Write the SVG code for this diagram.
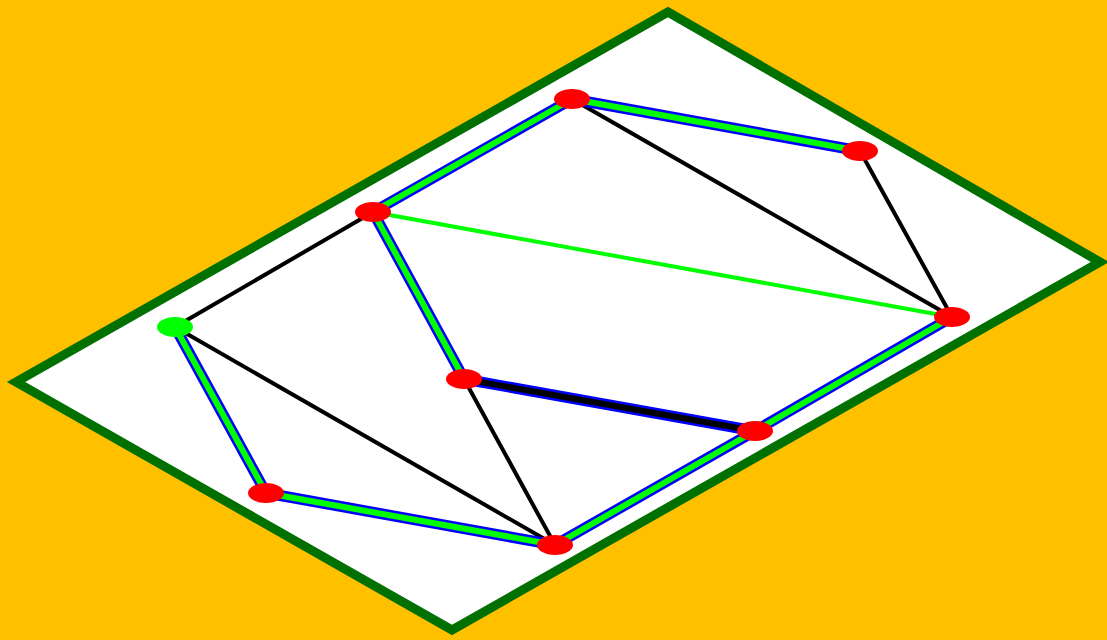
<svg xmlns="http://www.w3.org/2000/svg" width="1107" height="640" viewBox="0 0 1107 640">
<style>
.bg{fill:#FFC000}
.plane{fill:#FFFFFF;stroke:#007000;stroke-width:9;stroke-linejoin:miter}
.blk{stroke:#000000;stroke-width:4;stroke-linecap:round;fill:none}
.outer{stroke:#0000FF;stroke-width:11;stroke-linecap:round;fill:none}
.inner{stroke:#00FF00;stroke-width:6;stroke-linecap:round;fill:none}
.innerk{stroke:#000000;stroke-width:6;stroke-linecap:round;fill:none}
.lime{stroke:#00FF00;stroke-width:4;stroke-linecap:round;fill:none}
.node{fill:#FF0000}
.start{fill:#00FF00}
</style>
<rect class="bg" x="0" y="0" width="1107" height="640"/>
<polygon class="plane" points="668,12 1100,262 452,630 16,382"/>
<g id="connectors">
  <line class="blk" x1="572" y1="99" x2="952" y2="317"/>
  <line class="blk" x1="860" y1="151" x2="952" y2="317"/>
  <line class="blk" x1="373" y1="212" x2="175" y2="327"/>
  <line class="blk" x1="175" y1="327" x2="555" y2="545"/>
  <line class="blk" x1="464" y1="379" x2="555" y2="545"/>
  <line class="lime" x1="373" y1="212" x2="952" y2="317"/>
  <path class="outer" d="M572,99 L860,151"/>
  <path class="inner" d="M572,99 L860,151"/>
  <path class="outer" d="M572,99 L373,212 L464,379"/>
  <path class="inner" d="M572,99 L373,212 L464,379"/>
  <path class="outer" d="M175,327 L266,493 L555,545 L755,431 L952,317"/>
  <path class="inner" d="M175,327 L266,493 L555,545 L755,431 L952,317"/>
  <path class="outer" d="M464,379 L755,431"/>
  <path class="innerk" d="M464,379 L755,431"/>
</g>
<g id="nA"><ellipse class="node" cx="572" cy="99" rx="18" ry="10"/></g>
<g id="nB"><ellipse class="node" cx="860" cy="151" rx="18" ry="10"/></g>
<g id="nC"><ellipse class="node" cx="373" cy="212" rx="18" ry="10"/></g>
<g id="nD"><ellipse class="node" cx="952" cy="317" rx="18" ry="10"/></g>
<g id="nE"><ellipse class="start" cx="175" cy="327" rx="18" ry="10"/></g>
<g id="nF"><ellipse class="node" cx="464" cy="379" rx="18" ry="10"/></g>
<g id="nG"><ellipse class="node" cx="755" cy="431" rx="18" ry="10"/></g>
<g id="nH"><ellipse class="node" cx="266" cy="493" rx="18" ry="10"/></g>
<g id="nI"><ellipse class="node" cx="555" cy="545" rx="18" ry="10"/></g>
</svg>
